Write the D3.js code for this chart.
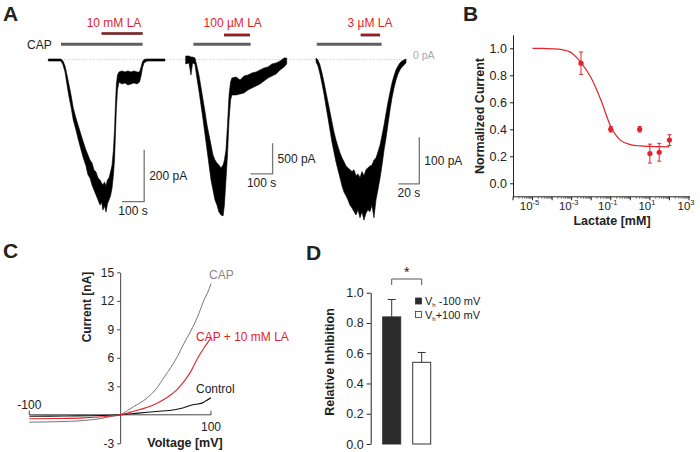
<!DOCTYPE html>
<html><head><meta charset="utf-8">
<script src="https://cdn.jsdelivr.net/npm/d3@7"></script>
<style>
body{margin:0;background:#fff}
svg{display:block}
text{font-family:"Liberation Sans",Arial,Helvetica,sans-serif}
</style>
</head><body>
<script>
// ================= DATA =================
// Panel A: whole-cell traces (time in s, current envelope in pA)
const trace1Time = [0,57,66,75,84,93,102,112,124,135,147,157,169,178,187,196,205,214,223,232,239,245,252,259,265,272,279,286,292,297,301,305,310,317,330,344,357,371,384,398,409,416,422,429,443,523];
const trace1High = [2,2,-6,-25,-60,-98,-137,-187,-225,-256,-290,-317,-348,-367,-387,-398,-425,-433,-456,-463,-475,-483,-471,-486,-463,-456,-433,-406,-348,-271,-175,-98,-60,-48,-44,-48,-44,-48,-44,-48,-48,-29,-10,0,2,2];
const trace1Low  = [-6,-6,-21,-48,-98,-144,-183,-233,-271,-310,-348,-379,-410,-444,-456,-483,-502,-521,-540,-560,-548,-579,-563,-587,-556,-540,-525,-494,-444,-387,-290,-194,-117,-87,-94,-90,-98,-94,-90,-94,-87,-63,-33,-13,-6,-6];

const trace2Time = [0,15,24,31,42,51,61,70,79,88,97,106,115,124,133,142,151,160,170,176,183,190,197,204,210,229,247,265,283,301,320,338,356,374,392,411,429,447,459];
const trace2High = [57,57,41,41,24,-106,-269,-465,-660,-856,-1068,-1231,-1394,-1557,-1638,-1687,-1720,-1769,-1720,-1638,-1475,-1068,-579,-367,-302,-285,-334,-269,-253,-220,-204,-171,-139,-122,-73,-57,-24,24,24];
const trace2Low  = [-73,-57,-253,-57,-73,-302,-530,-758,-986,-1231,-1475,-1720,-1964,-2127,-2290,-2372,-2486,-2535,-2551,-2372,-1964,-1557,-986,-660,-579,-579,-562,-546,-497,-465,-432,-399,-350,-302,-269,-236,-171,-122,-73];

const trace3Time = [0,1.9,3.8,5.7,7.6,9.5,11.4,13.3,15.2,17.1,19,21,22.9,24.8,26.7,28.6,30.5,32.4,34.3,36.2,38.1,40,41.9,43.8,45.7,47.6,49.5,51.4,53.3,55.2,57.1,59,61,62.9,64.8,66.7,68.6,70.5,72.4,74.3,76.2,78.1,80,81.9,83.8,85.7];
const trace3High = [3,-1,-12,-29,-48,-70,-91,-112,-134,-155,-172,-187,-200,-211,-219,-228,-232,-236,-240,-236,-249,-245,-253,-240,-249,-236,-232,-228,-226,-215,-211,-198,-183,-162,-140,-115,-91,-70,-50,-35,-22,-14,-7,-3,-1,1];
const trace3Low  = [-5,-14,-31,-52,-74,-100,-125,-151,-177,-198,-219,-237,-254,-271,-284,-292,-301,-312,-318,-326,-333,-322,-339,-326,-344,-329,-322,-326,-312,-339,-301,-279,-254,-226,-194,-168,-138,-108,-82,-61,-44,-31,-22,-16,-12,-7];

// Application periods (s) per trace
const laLabels = ["10 mM LA", "100 \u00b5M LA", "3 \u00b5M LA"];
const capOn  = [57, 35, 0.7];
const capOff = [423, 295, 62.5];
const laOn   = [239, 174, 42.6];
const laOff  = [423, 292, 61];
// Scale bars
const scaleBarCurrent = [200, 500, 100];   // pA
const scaleBarTime    = [100, 100, 20];    // s
const scaleBarCurrentLabels = ["200 pA", "500 pA", "100 pA"];
const scaleBarTimeLabels    = ["100 s", "100 s", "20 s"];

// Panel B: concentration-response
const lactateConc   = [0.003, 0.1, 3, 10, 30, 100];      // mM
const normCurrent   = [0.89, 0.40, 0.40, 0.22, 0.23, 0.32];
const normCurrentErr= [0.083, 0.02, 0.02, 0.07, 0.066, 0.04];
const fitConc  = [1e-5, 3.16e-5, 1e-4, 3.16e-4, 1e-3, 3.16e-3, 1e-2, 3.16e-2, 0.1, 0.316, 1, 3.16, 10, 31.6, 100];
const fitValue = [1.0, 0.999, 0.996, 0.99, 0.965, 0.89, 0.78, 0.615, 0.42, 0.318, 0.287, 0.277, 0.273, 0.271, 0.27];
const bYTicks = [0, 0.2, 0.4, 0.6, 0.8, 1.0];
const bXTickExps = [-5, -3, -1, 1, 3];

// Panel C: I-V curves
const capVoltage  = [-100,-76,-58,-40,-21,-10,0,8,15,26,34,41,48,56,63,70,78,85,92,98,100];
const capCurrent  = [-0.78,-0.74,-0.70,-0.60,-0.39,-0.18,0,0.45,0.87,1.5,2.14,2.9,3.9,5.0,6.14,7.47,8.87,10.27,12.0,13.26,13.8];
const laVoltage   = [-100,-70,-40,-20,0,15,30,40,52,62,71,78,85,92,100];
const laCurrent   = [-0.42,-0.39,-0.32,-0.21,0,0.38,0.8,1.2,1.85,2.6,3.6,4.6,5.9,7.0,8.1];
const ctrlVoltage = [-100,-60,-20,0,20,40,60,70,80,90,95,100];
const ctrlCurrent = [-0.15,-0.12,-0.08,0,0.18,0.35,0.53,0.74,1.05,1.23,1.5,1.79];
const cYTicks = [-3, 0, 3, 6, 9, 12, 15];

// Panel D: relative inhibition
const holdingLabels = ["-100 mV", "+100 mV"];
const inhibition    = [0.84, 0.54];
const inhibitionErr = [0.115, 0.065];
const dYTicks = [0, 0.2, 0.4, 0.6, 0.8, 1.0];

// ================= DRAW =================
const svg = d3.select("body").append("svg").attr("width", 700).attr("height", 452);
const RED = "#e2232b", DARKRED = "#9e1a1e", GRAYBAR = "#5f5f5f", TXT = "#222";

function panelLetter(t, x, y) {
  svg.append("text").attr("x", x).attr("y", y).text(t)
    .attr("font-size", 21).attr("font-weight", "bold").attr("fill", "#222");
}
panelLetter("A", 3, 21);
panelLetter("B", 463, 21);
panelLetter("C", 3, 258);
panelLetter("D", 306, 260);

// ---------- Panel A ----------
const zeroY = 59.5;
const traceLayout = [
  {x0: 48.3, pxPerS: 0.223, pxPerPA: 0.26,   barCorner: [430, -547]},
  {x0: 185.7, pxPerS: 0.22, pxPerPA: 0.0613, barCorner: [395, -1866]},
  {x0: 316,  pxPerS: 1.05,  pxPerPA: 0.467,  barCorner: [98.4, -266.5]}
];
const labelCenters = [114, 232.7, 370];
const traces = [
  {t: trace1Time, hi: trace1High, lo: trace1Low},
  {t: trace2Time, hi: trace2High, lo: trace2Low},
  {t: trace3Time, hi: trace3High, lo: trace3Low}
];

// zero line
svg.append("line").attr("x1", 49).attr("x2", 408).attr("y1", zeroY).attr("y2", zeroY)
  .attr("stroke", "#bbb").attr("stroke-width", 0.8).attr("stroke-dasharray", "1,1.5");
svg.append("text").attr("x", 413).attr("y", 59).text("0 pA")
  .attr("font-size", 10.5).attr("fill", "#aaa");
svg.append("text").attr("x", 27).attr("y", 48.5).text("CAP")
  .attr("font-size", 12).attr("fill", TXT);

traces.forEach((tr, k) => {
  const L = traceLayout[k];
  const tMax = d3.max(tr.t);
  const x = d3.scaleLinear().domain([0, tMax]).range([L.x0, L.x0 + tMax * L.pxPerS]);
  const y = d3.scaleLinear().domain([0, -1]).range([zeroY, zeroY + L.pxPerPA]);
  const pts = tr.t.map((t, i) => ({t, hi: tr.hi[i], lo: tr.lo[i]}));
  const area = d3.area().x(d => x(d.t)).y0(d => y(d.lo)).y1(d => y(d.hi));
  svg.append("path").datum(pts).attr("d", area)
    .attr("fill", "#000").attr("stroke", "#000").attr("stroke-width", 0.6).attr("stroke-linejoin", "round");

  // application bars
  svg.append("line").attr("x1", x(capOn[k])).attr("x2", x(capOff[k])).attr("y1", 44.3).attr("y2", 44.3)
    .attr("stroke", GRAYBAR).attr("stroke-width", 3);
  const laY = k === 0 ? 33.5 : 35;
  svg.append("line").attr("x1", x(laOn[k])).attr("x2", x(laOff[k])).attr("y1", laY).attr("y2", laY)
    .attr("stroke", "#777").attr("stroke-width", 3.2);
  svg.append("line").attr("x1", x(laOn[k])).attr("x2", x(laOff[k])).attr("y1", laY).attr("y2", laY)
    .attr("stroke", DARKRED).attr("stroke-width", 2);
  svg.append("text").attr("x", labelCenters[k]).attr("y", 26.5).attr("text-anchor", "middle")
    .text(laLabels[k]).attr("font-size", 12).attr("fill", RED);

  // scale bars
  const [ct, ci] = L.barCorner;
  const cx = x(ct), cy = y(ci);
  const vx2 = y(ci + scaleBarCurrent[k]);
  const hx1 = x(ct - scaleBarTime[k]);
  svg.append("path").attr("d", `M${cx},${vx2}V${cy}H${hx1}`)
    .attr("fill", "none").attr("stroke", "#777").attr("stroke-width", 1.3);
  svg.append("text").attr("x", cx + 5).attr("y", (cy + vx2) / 2 + 4)
    .text(scaleBarCurrentLabels[k]).attr("font-size", 12).attr("fill", TXT);
  svg.append("text").attr("x", (cx + hx1) / 2).attr("y", cy + 13).attr("text-anchor", "middle")
    .text(scaleBarTimeLabels[k]).attr("font-size", 12).attr("fill", TXT);
});

// ---------- Panel B ----------
{
  const x = d3.scaleLog().domain([1e-6, 1e3]).range([513, 689]);
  const y = d3.scaleLinear().domain([-0.1, 1.1]).range([196.8, 34.8]);
  const g = svg.append("g");
  const ya = g.append("g").attr("transform", "translate(513,0)")
    .call(d3.axisLeft(y).tickValues(bYTicks).tickFormat(d3.format(".1f")).tickSize(3).tickSizeOuter(0).tickPadding(3));
  ya.selectAll("text").attr("font-size", 12.5).attr("fill", TXT).attr("font-family", "Liberation Sans, Arial, sans-serif");
  ya.selectAll("line,path").attr("stroke", "#222");
  const xa = g.append("g").attr("transform", "translate(0,196.8)");
  xa.append("line").attr("x1", 513).attr("x2", 690).attr("stroke", "#222");
  const decades = d3.range(-6, 4);
  decades.forEach(e => {
    xa.append("line").attr("x1", x(Math.pow(10, e))).attr("x2", x(Math.pow(10, e))).attr("y2", 3.5).attr("stroke", "#222");
    if (e < 3) for (let m = 2; m < 10; m++) {
      const v = m * Math.pow(10, e);
      xa.append("line").attr("x1", x(v)).attr("x2", x(v)).attr("y2", 2).attr("stroke", "#444").attr("stroke-width", 0.7);
    }
  });
  bXTickExps.forEach(e => {
    const t = xa.append("text").attr("x", x(Math.pow(10, e)) - 3).attr("y", 13).attr("text-anchor", "middle")
      .attr("font-size", 11.5).attr("fill", TXT);
    t.append("tspan").text("10");
    t.append("tspan").text(e < 0 ? "-" + (-e) : String(e)).attr("font-size", 7.5).attr("dy", -5);
  });
  g.append("text").attr("x", 612).attr("y", 225).attr("text-anchor", "middle")
    .text("Lactate [mM]").attr("font-size", 12.5).attr("font-weight", "bold").attr("fill", TXT);
  g.append("text").attr("transform", "translate(484,116) rotate(-90)").attr("text-anchor", "middle")
    .text("Normalized Current").attr("font-size", 12.5).attr("font-weight", "bold").attr("fill", TXT);
  const line = d3.line().x(d => x(d[0])).y(d => y(d[1])).curve(d3.curveMonotoneX);
  g.append("path").datum(fitConc.map((c, i) => [c, fitValue[i]])).attr("d", line)
    .attr("fill", "none").attr("stroke", RED).attr("stroke-width", 1.2);
  lactateConc.forEach((c, i) => {
    const px = x(c), v = normCurrent[i], e = normCurrentErr[i];
    g.append("line").attr("x1", px).attr("x2", px).attr("y1", y(v - e)).attr("y2", y(v + e)).attr("stroke", RED).attr("stroke-width", 1);
    [v - e, v + e].forEach(w => g.append("line").attr("x1", px - 2).attr("x2", px + 2).attr("y1", y(w)).attr("y2", y(w)).attr("stroke", RED).attr("stroke-width", 1));
    g.append("circle").attr("cx", px).attr("cy", y(v)).attr("r", 2.6).attr("fill", RED);
  });
}

// ---------- Panel C ----------
{
  const x = d3.scaleLinear().domain([-100, 100]).range([29.3, 211]);
  const y = d3.scaleLinear().domain([-3, 15]).range([443.3, 272.3]);
  const g = svg.append("g");
  const ya = g.append("g").attr("transform", `translate(${x(0)},0)`)
    .call(d3.axisLeft(y).tickValues(cYTicks).tickFormat(d => d === 0 ? "" : d).tickSize(3).tickSizeOuter(0).tickPadding(3));
  ya.selectAll("text").attr("font-size", 12).attr("fill", TXT).attr("font-family", "Liberation Sans, Arial, sans-serif");
  ya.selectAll("line,path").attr("stroke", "#444");
  g.append("line").attr("x1", x(-100)).attr("x2", x(100)).attr("y1", y(0)).attr("y2", y(0)).attr("stroke", "#444");
  [-100, 100].forEach(v => g.append("line").attr("x1", x(v)).attr("x2", x(v)).attr("y1", y(0)).attr("y2", y(0) - 4).attr("stroke", "#444"));
  g.append("text").attr("x", x(-100)).attr("y", y(0) - 6).attr("text-anchor", "middle").text("-100").attr("font-size", 12).attr("fill", TXT);
  g.append("text").attr("x", x(100)).attr("y", y(0) + 16).attr("text-anchor", "middle").text("100").attr("font-size", 12).attr("fill", TXT);
  g.append("text").attr("x", 185).attr("y", 447).attr("text-anchor", "middle")
    .text("Voltage [mV]").attr("font-size", 12.5).attr("font-weight", "bold").attr("fill", TXT);
  g.append("text").attr("transform", "translate(91,307) rotate(-90)").attr("text-anchor", "middle")
    .text("Current [nA]").attr("font-size", 12).attr("font-weight", "bold").attr("fill", TXT);
  const line = d3.line().x(d => x(d[0])).y(d => y(d[1])).curve(d3.curveMonotoneX);
  const series = [
    {v: ctrlVoltage, i: ctrlCurrent, c: "#111", w: 1.1},
    {v: capVoltage, i: capCurrent, c: "#777", w: 1},
    {v: laVoltage, i: laCurrent, c: RED, w: 1.1}
  ];
  series.forEach(s => g.append("path").datum(s.v.map((v, k) => [v, s.i[k]])).attr("d", line)
    .attr("fill", "none").attr("stroke", s.c).attr("stroke-width", s.w));
  g.append("text").attr("x", 209).attr("y", 279).text("CAP").attr("font-size", 12).attr("fill", "#888");
  g.append("text").attr("x", 196).attr("y", 341).text("CAP + 10 mM LA").attr("font-size", 12).attr("fill", RED);
  g.append("text").attr("x", 196).attr("y", 393).text("Control").attr("font-size", 12).attr("fill", TXT);
}

// ---------- Panel D ----------
{
  const y = d3.scaleLinear().domain([0, 1]).range([444, 292.7]);
  const x = d3.scaleBand().domain(holdingLabels).range([373.7, 439.7]).paddingInner(0.4).paddingOuter(0.3);
  const g = svg.append("g");
  const ya = g.append("g").attr("transform", "translate(370.7,0)")
    .call(d3.axisLeft(y).tickValues(dYTicks).tickFormat(d3.format(".1f")).tickSize(4).tickSizeOuter(0).tickPadding(3));
  ya.selectAll("text").attr("font-size", 12.5).attr("fill", TXT).attr("font-family", "Liberation Sans, Arial, sans-serif");
  ya.selectAll("line,path").attr("stroke", "#222");
  g.append("text").attr("transform", "translate(334,362) rotate(-90)").attr("text-anchor", "middle")
    .text("Relative Inhibition").attr("font-size", 12.5).attr("font-weight", "bold").attr("fill", TXT);
  holdingLabels.forEach((h, i) => {
    const bx = x(h), bw = x.bandwidth(), v = inhibition[i], e = inhibitionErr[i];
    const cx = bx + bw / 2;
    g.append("line").attr("x1", cx).attr("x2", cx).attr("y1", y(v)).attr("y2", y(v + e)).attr("stroke", "#333").attr("stroke-width", 1);
    g.append("line").attr("x1", cx - 4).attr("x2", cx + 4).attr("y1", y(v + e)).attr("y2", y(v + e)).attr("stroke", "#333").attr("stroke-width", 1);
    g.append("rect").attr("x", bx).attr("y", y(v)).attr("width", bw).attr("height", y(0) - y(v))
      .attr("fill", i === 0 ? "#2b2b2b" : "#fff").attr("stroke", "#333").attr("stroke-width", 1);
  });
  const c0 = x(holdingLabels[0]) + x.bandwidth() / 2, c1 = x(holdingLabels[1]) + x.bandwidth() / 2;
  g.append("path").attr("d", `M${c0},285V279H${c1}V285`).attr("fill", "none").attr("stroke", "#555").attr("stroke-width", 1);
  g.append("text").attr("x", (c0 + c1) / 2).attr("y", 277).attr("text-anchor", "middle").text("*").attr("font-size", 14).attr("fill", TXT);
  holdingLabels.forEach((h, i) => {
    const ly = 298 + i * 13.5;
    g.append("rect").attr("x", 415.5).attr("y", ly).attr("width", 6).attr("height", 6)
      .attr("fill", i === 0 ? "#2b2b2b" : "#fff").attr("stroke", "#333").attr("stroke-width", 0.8);
    const t = g.append("text").attr("x", 425).attr("y", ly + 7).attr("font-size", 11).attr("fill", TXT);
    t.append("tspan").text("V");
    t.append("tspan").text("h").attr("font-size", 6).attr("dy", 2);
    t.append("tspan").text(i === 0 ? " " + h : h).attr("dy", -2);
  });
}
</script>
</body></html>
